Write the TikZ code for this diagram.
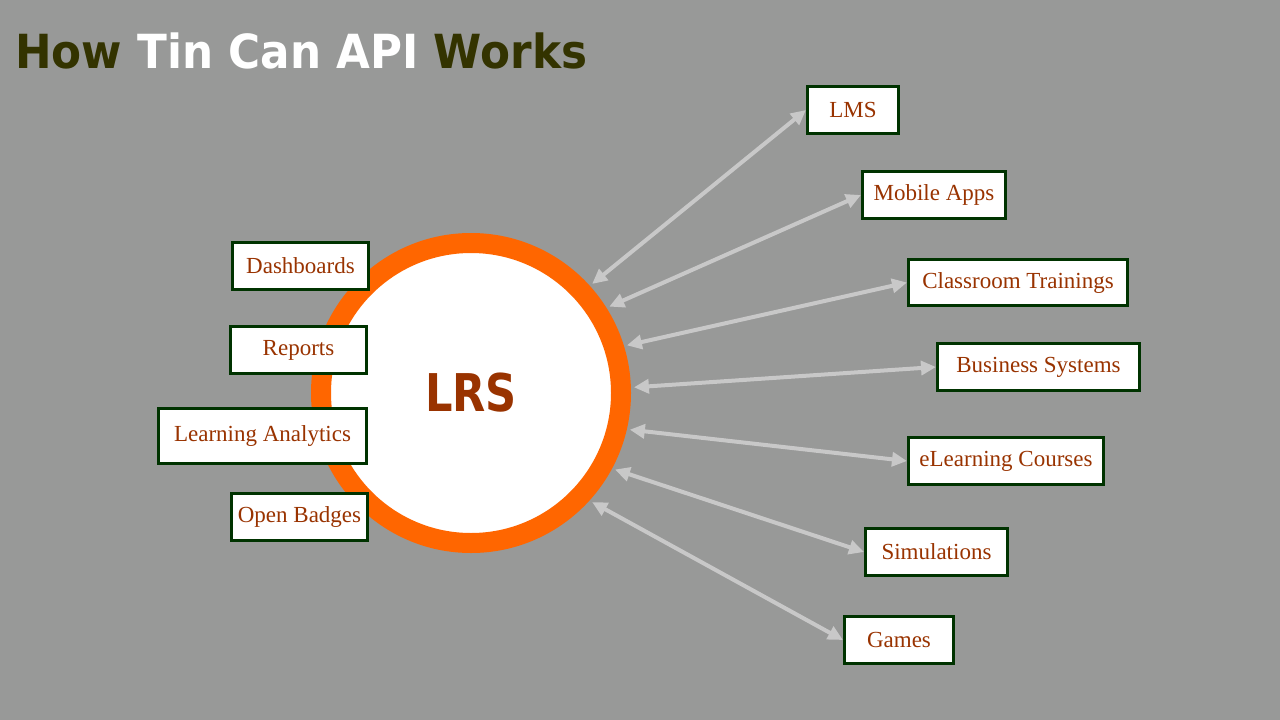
\documentclass[tikz,border=0pt]{standalone}
\usepackage{fontspec}
\usepackage{graphicx}
\setmainfont{Liberation Serif}
\newfontfamily\headfont{DejaVu Sans}
\usetikzlibrary{arrows.meta}
\definecolor{bg}{HTML}{989998}
\definecolor{ringorange}{HTML}{FF6600}
\definecolor{boxgreen}{HTML}{003300}
\definecolor{labelred}{HTML}{993300}
\definecolor{arrowgray}{HTML}{C8C8C8}
\definecolor{titleolive}{HTML}{333300}
\begin{document}
\begin{tikzpicture}[x=1pt,y=-1pt,
  box/.style={draw=boxgreen, line width=3pt, fill=white, text=labelred,
    font=\fontsize{23}{27}\selectfont, inner sep=0pt, minimum height=47pt},
  link/.style={draw=arrowgray, line width=4pt,
    {Triangle[length=15pt,width=14pt]}-{Triangle[length=15pt,width=14pt]}}]
\useasboundingbox (0,0) rectangle (1280,720);
\fill[bg] (0,0) rectangle (1280,720);

\node[anchor=base west, inner sep=0pt] (title) at (15,68)
  {\headfont\bfseries\fontsize{47}{56}\selectfont\scalebox{0.93}[1]{\textcolor{titleolive}{How} \textcolor{white}{Tin Can API} \textcolor{titleolive}{Works}}};

\node[circle, draw=ringorange, fill=white, line width=20pt, minimum size=300pt,
  inner sep=0pt, outer sep=13pt, text=labelred,
  font=\headfont\bfseries\fontsize{52}{60}\selectfont] (lrs) at (471,393) {\scalebox{0.83}[1]{LRS}};

% right boxes
\node[box, minimum width=91pt] (lms) at (853,110) {LMS};
\node[box, minimum width=143pt] (mobile) at (934,195) {Mobile Apps};
\node[box, minimum width=219pt, minimum height=46pt] (class) at (1018,282.5) {Classroom Trainings};
\node[box, minimum width=202pt] (business) at (1038.5,367) {Business Systems};
\node[box, minimum width=195pt] (elearn) at (1006,461) {eLearning Courses};
\node[box, minimum width=142pt] (sim) at (936.5,552) {Simulations};
\node[box, minimum width=109pt] (games) at (899,640) {Games};

% left boxes
\node[box, minimum width=136pt] (dash) at (300.5,266) {Dashboards};
\node[box, minimum width=136pt] (reports) at (298.5,350) {Reports};
\node[box, minimum width=208pt, minimum height=55pt] (analytics) at (262.5,436) {Learning Analytics};
\node[box, minimum width=136pt] (badges) at (299.5,517) {Open Badges};

% connectors
\draw[link] (lrs.42) -- (lms.west);
\draw[link] (lrs.32) -- (mobile.west);
\draw[link] (lrs.17.5) -- (class.west);
\draw[link] (lrs.2.5) -- (business.west);
\draw[link] (lrs.-13) -- (elearn.west);
\draw[link] (lrs.-28) -- (sim.west);
\draw[link] (lrs.-42) -- (games.west);
\end{tikzpicture}
\end{document}
